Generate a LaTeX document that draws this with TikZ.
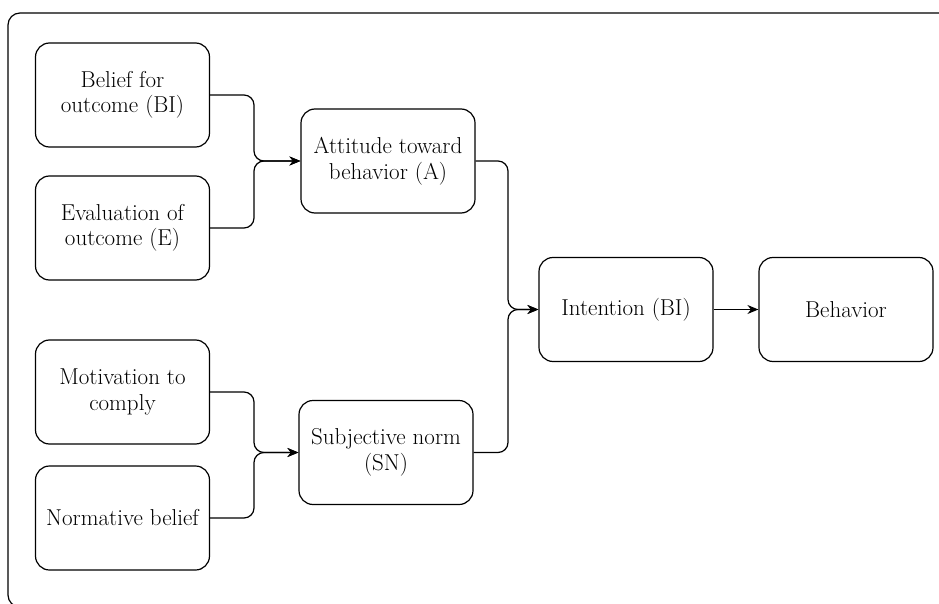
\documentclass[tikz,border=0pt]{standalone}
\usetikzlibrary{arrows.meta}
\tikzset{
  box/.style={draw, line width=1.2pt, rounded corners=14pt, minimum width=174pt, minimum height=104pt, align=center, inner sep=0pt, font=\fontsize{23}{25.5}\selectfont},
  conn/.style={line width=1.2pt, rounded corners=10pt, -{Stealth[length=11pt,width=9pt]}},
}
\begin{document}
\begin{tikzpicture}[x=1pt,y=-1pt]
\useasboundingbox (0,0) rectangle (939,604);
\begin{scope}
\clip (0,0) rectangle (939,604);
\draw[line width=1.2pt, rounded corners=12pt] (8,13) rectangle (990,607);
\end{scope}
\node[box] (belief) at (122.5,95) {Belief for\\outcome (BI)};
\node[box] (eval) at (122.5,228) {Evaluation of\\outcome (E)};
\node[box] (motiv) at (122.5,392) {Motivation to\\comply};
\node[box] (norm) at (122.5,518) {Normative belief};
\node[box] (att) at (388,161) {Attitude toward\\behavior (A)};
\node[box] (sn) at (386,452.5) {Subjective norm\\(SN)};
\node[box] (int) at (626,309.5) {Intention (BI)};
\node[box] (beh) at (846,309.5) {Behavior};
\draw[conn] (belief.east) -| (254,161) -- (att.west);
\draw[conn] (eval.east) -| (254,161) -- (att.west);
\draw[conn] (motiv.east) -| (254,452.5) -- (sn.west);
\draw[conn] (norm.east) -| (254,452.5) -- (sn.west);
\draw[conn] (att.east) -| (508,309.5) -- (int.west);
\draw[conn] (sn.east) -| (508,309.5) -- (int.west);
\draw[conn] (int.east) -- (beh.west);
\end{tikzpicture}
\end{document}
